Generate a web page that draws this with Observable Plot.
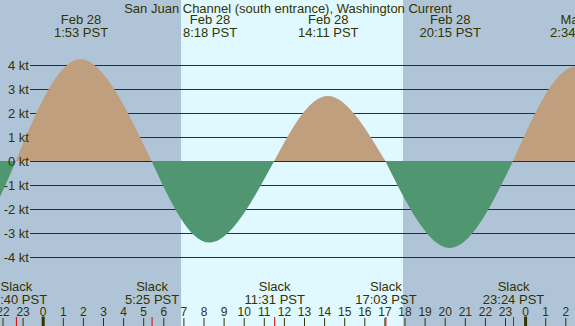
<!DOCTYPE html>
<html>
<head>
<meta charset="utf-8">
<script src="https://cdn.jsdelivr.net/npm/d3@7"></script>
<script src="https://cdn.jsdelivr.net/npm/@observablehq/plot@0.6"></script>
<style>
  html, body { margin: 0; padding: 0; background: #fff; }
  #chart svg { display: block; }
</style>
</head>
<body>
<div id="chart"></div>
<script>
// ---- data ----
const title = "San Juan Channel (south entrance), Washington Current";
const slackTimes = ["Feb 27 16:40", "Feb 27 22:40", "Feb 28 5:25", "Feb 28 11:31", "Feb 28 17:03", "Feb 28 23:24", "Mar 1 5:50"];
const maxTimes = ["Feb 27 19:50", "Feb 28 1:53", "Feb 28 8:18", "Feb 28 14:11", "Feb 28 20:15", "Mar 1 2:34"];
const maxSpeeds = [-3.55, 4.24, -3.4, 2.71, -3.62, 3.95];
const speedTicks = [-4, -3, -2, -1, 0, 1, 2, 3, 4];
const hourTicks = [-2, -1, 0, 1, 2, 3, 4, 5, 6, 7, 8, 9, 10, 11, 12, 13, 14, 15, 16, 17, 18, 19, 20, 21, 22, 23, 24, 25, 26];
const sunrise = "Feb 28 6:53";
const sunset = "Feb 28 17:56";

// ---- helpers ----
const dayOffset = {"Feb 27": -24, "Feb 28": 0, "Mar 1": 24};
function hoursOf(s) {
  const m = s.match(/^(\w+ \d+) (\d+):(\d+)$/);
  return dayOffset[m[1]] + (+m[2]) + (+m[3]) / 60;
}
const dayOf = s => s.match(/^(\w+ \d+)/)[1];
const clockOf = s => s.match(/(\d+:\d+)$/)[1] + " PST";

const W = 575, H = 326;
const pxPerHour = 20.1, x0px = 42.7;         // layout of the time axis
const pxPerKt = 24, zeroPx = 161;            // layout of the speed axis
const xDomain = [-x0px / pxPerHour, (W - x0px) / pxPerHour];
const yDomain = [(zeroPx - H) / pxPerKt, zeroPx / pxPerKt];
const yAt = px => (zeroPx - px) / pxPerKt;
const xAt = px => (px - x0px) / pxPerHour;

const night = "#b0c4d8", day = "#e0f8ff";
const floodFill = "#bf9f7e", ebbFill = "#509670";
const ink = "#333300";
const font = "Liberation Sans, Arial, sans-serif";
const fs = 13;

// half-cycles: slack -> max -> slack
const cycles = [];
maxTimes.forEach((t, i) => {
  cycles.push(
    {t: hoursOf(slackTimes[i]), v: 0, i},
    {t: hoursOf(t), v: maxSpeeds[i], i},
    {t: hoursOf(slackTimes[i + 1]), v: 0, i}
  );
});
const flood = cycles.filter(d => maxSpeeds[d.i] > 0);
const ebb = cycles.filter(d => maxSpeeds[d.i] < 0);

const bands = [
  {x1: xDomain[0] - 1, x2: hoursOf(sunrise), fill: night},
  {x1: hoursOf(sunrise), x2: hoursOf(sunset), fill: day},
  {x1: hoursOf(sunset), x2: xDomain[1] + 1, fill: night}
];

const maxEvents = maxTimes.map(t => ({t: hoursOf(t), day: dayOf(t), clock: clockOf(t)}));
const slackEvents = slackTimes.map(t => ({t: hoursOf(t), clock: clockOf(t)}));

const chart = Plot.plot({
  width: W,
  height: H,
  margin: 0,
  x: {domain: xDomain, axis: null},
  y: {domain: yDomain, axis: null},
  style: {fontFamily: font, background: night, color: ink},
  marks: [
    Plot.rect(bands, {x1: "x1", x2: "x2", y1: yDomain[0], y2: yDomain[1], fill: "fill", clip: true}),
    Plot.ruleY(speedTicks, {x1: xAt(30), x2: xDomain[1], stroke: ink, strokeWidth: 1.2}),
    Plot.areaY(flood, {x: "t", y1: 0, y2: "v", z: "i", fill: floodFill, curve: "natural", clip: true}),
    Plot.areaY(ebb, {x: "t", y1: 0, y2: "v", z: "i", fill: ebbFill, curve: "natural", clip: true}),
    Plot.text(speedTicks, {x: xAt(28.5), y: d => d, text: d => `${d} kt`, textAnchor: "end", fontSize: fs, fill: ink}),
    // title
    Plot.text([title], {x: (xDomain[0] + xDomain[1]) / 2, frameAnchor: "top", dy: 7.9, lineAnchor: "middle", text: d => d, fontSize: fs, fill: ink}),
    // max current labels
    Plot.text(maxEvents, {x: "t", frameAnchor: "top", dy: 19.2, lineAnchor: "middle", text: "day", fontSize: fs, fill: ink}),
    Plot.text(maxEvents, {x: "t", frameAnchor: "top", dy: 31.9, lineAnchor: "middle", text: "clock", fontSize: fs, fill: ink}),
    // slack labels
    Plot.text(slackEvents, {x: "t", frameAnchor: "bottom", dy: 286.5 - H, lineAnchor: "middle", text: () => "Slack", fontSize: fs, fill: ink}),
    Plot.text(slackEvents, {x: "t", frameAnchor: "bottom", dy: 299.5 - H, lineAnchor: "middle", text: "clock", fontSize: fs, fill: ink}),
    // hour labels
    Plot.text(hourTicks, {x: d => d, frameAnchor: "bottom", dy: 311.8 - H, lineAnchor: "middle", text: d => String(((d % 24) + 24) % 24), fontSize: 12, fill: ink}),
    // hour ticks
    Plot.ruleX(hourTicks.filter(d => d % 24 !== 0), {x: d => d, y1: yAt(318), y2: yDomain[0], stroke: ink, strokeWidth: 1}),
    Plot.ruleX(hourTicks.filter(d => d % 24 === 0), {x: d => d, y1: yAt(316.5), y2: yDomain[0], stroke: ink, strokeWidth: 3}),
    Plot.ruleX(slackEvents, {x: "t", y1: yAt(317), y2: yDomain[0], stroke: "#e00000", strokeWidth: 1})
  ]
});
document.getElementById("chart").appendChild(chart);
</script>
</body>
</html>
